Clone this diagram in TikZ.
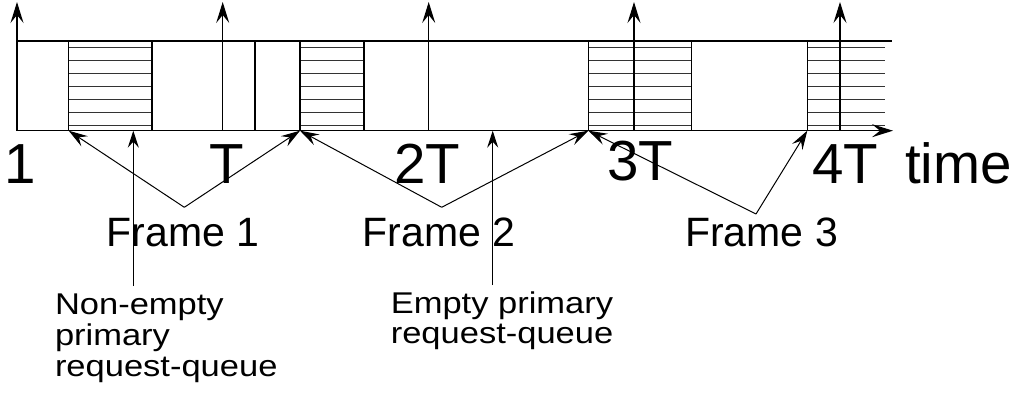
\documentclass[tikz,border=0pt]{standalone}
\usepackage{fontspec}
\setmainfont{Liberation Sans}
\newfontfamily\widesans[FakeStretch=1.15]{Liberation Sans}
\usetikzlibrary{arrows.meta}
\begin{document}
\begin{tikzpicture}[x=1pt,y=-1pt,
  line/.style={line width=1.1pt, black},
  uparrow/.style={line, -{Stealth[length=21pt,width=13pt,inset=8pt]}},
  ptr/.style={line width=1pt, black, -{Stealth[length=19pt,width=12pt,inset=7pt]}},
  hatch/.style={line width=1pt, black!80},
  ticklabel/.style={inner sep=0pt, anchor=base, font=\fontsize{56.5}{60}\selectfont},
  framelabel/.style={inner sep=0pt, anchor=base west, font=\fontsize{41}{46}\selectfont},
  notelabel/.style={inner sep=0pt, anchor=base west, font=\widesans\fontsize{30}{31}\selectfont},
]
\useasboundingbox (0,0) rectangle (1014,402);

% points on the time axis
\coordinate (t0) at (17,130.7);
\coordinate (a1) at (68.7,130.7);
\coordinate (a2) at (152,130.7);
\coordinate (t1) at (222.7,130.7);
\coordinate (b1) at (255,130.7);
\coordinate (c1) at (300,130.7);
\coordinate (c2) at (364,130.7);
\coordinate (t2) at (428.7,130.7);
\coordinate (d1) at (588.3,130.7);
\coordinate (t3) at (634,130.7);
\coordinate (d2) at (691.7,130.7);
\coordinate (e1) at (807.3,130.7);
\coordinate (t4) at (840,130.7);
\coordinate (tend) at (893,130.7);
\coordinate (qa) at (133.3,130.7);
\coordinate (qb) at (492.7,130.7);

% hatched (busy) slots
\foreach \xa/\xb in {68.7/152, 300/364, 588.3/691.7, 807.3/885}
  \foreach \k in {0,...,6}
    \draw[hatch] (\xa,47.7+12.9*\k) -- (\xb,47.7+12.9*\k);

% slot boundaries
\foreach \p in {a1,a2,b1,c1,c2,d1,d2,e1}
  \draw[line] (\p) -- ++(0,-89.7);

% top edge and time axis
\draw[line] (17,41) -- (891.7,41);
\draw[line, line width=1.2pt, -{Stealth[length=21pt,width=13pt,inset=8pt]}] (t0) -- (tend);

% frame boundaries at multiples of T
\foreach \p in {t0,t1,t2,t3,t4}
  \draw[uparrow] (\p) -- ++(0,-128.7);

% axis labels
\node[ticklabel] (l1) at (20,183.3) {1};
\node[ticklabel] (lT) at (227,183.3) {T};
\node[ticklabel] (l2T) at (427,183.3) {2T};
\node[ticklabel] (l3T) at (640,180) {3T};
\node[ticklabel] (l4T) at (845.3,183.3) {4T};
\node[ticklabel, anchor=base west] (ltime) at (905,183.3) {time};

% frame labels and their pointers
\node[framelabel] (f1) at (106.7,246.7) {Frame 1};
\node[framelabel] (f2) at (362.7,246.7) {Frame 2};
\node[framelabel] (f3) at (685,246.7) {Frame 3};
\coordinate (v1) at (184.3,207.3);
\coordinate (v2) at (441.7,207.3);
\coordinate (v3) at (756,214);
\draw[ptr] (v1) -- (a1);
\draw[ptr] (v1) -- (c1);
\draw[ptr] (v2) -- (c1);
\draw[ptr] (v2) -- (d1);
\draw[ptr] (v3) -- (d1);
\draw[ptr] (v3) -- (e1);

% queue-state notes
\node[notelabel] (na1) at (54.8,314.3) {Non-empty};
\node[notelabel] (na2) at (54.8,345.7) {primary};
\node[notelabel] (na3) at (54.8,376.7) {request-queue};
\node[notelabel] (nb1) at (390.6,313.3) {Empty primary};
\node[notelabel] (nb2) at (390.6,343.3) {request-queue};
\coordinate (sa) at (133.3,286);
\coordinate (sb) at (492.7,285);
\draw[ptr, -{Stealth[length=17pt,width=11pt,inset=6pt]}] (sa) -- (qa);
\draw[ptr, -{Stealth[length=17pt,width=11pt,inset=6pt]}] (sb) -- (qb);
\end{tikzpicture}
\end{document}
